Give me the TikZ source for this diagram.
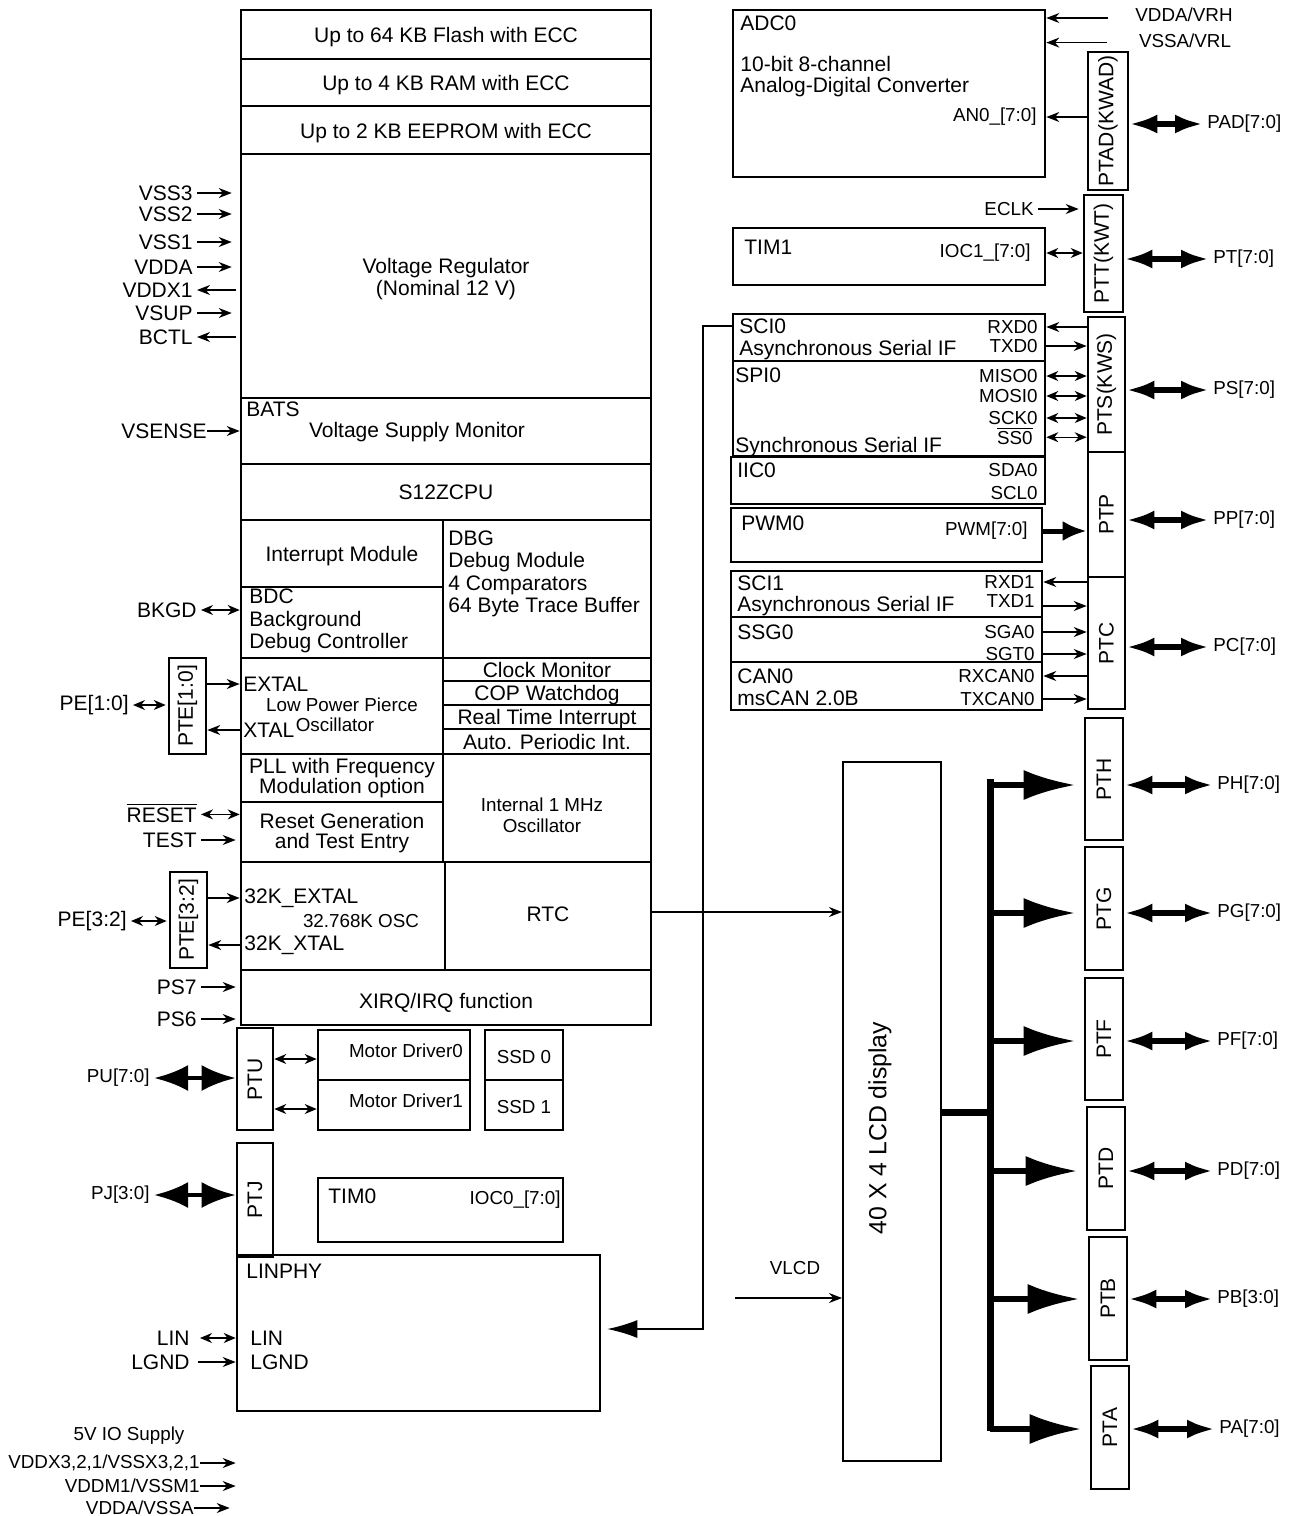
\documentclass[tikz,border=0pt]{standalone}
\usepackage{fontspec}
\setmainfont{Liberation Sans}
\usetikzlibrary{arrows.meta,fit,calc}
\tikzset{
  blk/.style={draw, line width=1.3pt, inner sep=0pt},
  lbl/.style={inner sep=2pt, align=center, font=\fontsize{10.5}{11.2}\selectfont},
  boxt/.style={lbl, yshift=-1.5pt},
  sml/.style={inner sep=2pt, align=center, font=\fontsize{9.4}{10.5}\selectfont},
  vlbl/.style={rotate=90, inner sep=0pt, font=\fontsize{10.5}{11.2}\selectfont},
  sig/.style={line width=0.7pt, -{Stealth[length=6.5pt, width=5pt]}},
  bidir/.style={line width=0.7pt, {Stealth[length=6pt, width=5pt]}-{Stealth[length=6pt, width=5pt]}},
  portbus/.style={line width=2.8pt, {Latex[length=14pt, width=9.5pt]}-{Latex[length=14pt, width=9.5pt]}},
  padbus/.style={line width=2.2pt, {Latex[length=17pt, width=13pt]}-{Latex[length=17pt, width=13pt]}},
  pwmbus/.style={line width=2.5pt, -{Latex[length=12pt, width=10pt]}},
  lcdbus/.style={line width=3pt, -{Latex[length=26pt, width=15pt]}},
  linbus/.style={line width=0.7pt, -{Latex[length=15pt, width=9pt]}},
}

\begin{document}
\begin{tikzpicture}[x=0.5pt, y=-0.5pt]
  \useasboundingbox (0,0) rectangle (1292,1516);

  % Main column: memories, regulator, CPU
  \node[blk, fit={(241,10) (651,59)}] (flash) {};
  \node[boxt] (flasht) at (flash) {Up to 64 KB Flash with ECC};
  \node[blk, fit={(241,59) (651,106)}] (ram) {};
  \node[boxt] (ramt) at (ram) {Up to 4 KB RAM with ECC};
  \node[blk, fit={(241,106) (651,154)}] (eeprom) {};
  \node[boxt] (eepromt) at (eeprom) {Up to 2 KB EEPROM with ECC};
  \node[blk, fit={(241,154) (651,398)}] (vreg) {};
  \node[boxt] (vregt) at (vreg) {Voltage Regulator\\(Nominal 12 V)};
  \node[blk, fit={(241,398) (651,464)}] (bats) {};
  \node[lbl, anchor=west] (batst) at (242,409) {BATS};
  \node[lbl] (batsm) at (417,432) {Voltage Supply Monitor};
  \node[blk, fit={(241,464) (651,520)}] (cpu) {};
  \node[lbl] (cput) at (cpu) {S12ZCPU};

  % Main column: debug, clocks, reset
  \node[blk, fit={(241,520) (443,587)}] (intm) {};
  \node[boxt] (intmt) at (intm) {Interrupt Module};
  \node[blk, fit={(241,587) (443,658)}] (bdc) {};
  \node[lbl, anchor=west, align=left] (bdct) at (245,621) {BDC\\Background\\Debug Controller};
  \node[blk, fit={(443,520) (651,658)}] (dbg) {};
  \node[lbl, anchor=west, align=left] (dbgt) at (444,574) {DBG\\Debug Module\\4 Comparators\\64 Byte Trace Buffer};
  \node[blk, fit={(241,658) (443,754)}] (osc) {};
  \node[lbl, anchor=west] (extal) at (239,684) {EXTAL};
  \node[lbl, anchor=west] (xtal) at (239,730) {XTAL};
  \node[sml] (lppt) at (342,705) {Low Power Pierce};
  \node[sml] (lppo) at (335,725) {Oscillator};
  \node[blk, fit={(443,658) (651,681)}] (clkmon) {};
  \node[lbl] (clkmont) at (clkmon) {Clock Monitor};
  \node[blk, fit={(443,681) (651,705)}] (cop) {};
  \node[lbl, yshift=-1pt] (copt) at (cop) {COP Watchdog};
  \node[blk, fit={(443,705) (651,729)}] (rti) {};
  \node[lbl, yshift=-1pt] (rtit) at (rti) {Real Time Interrupt};
  \node[blk, fit={(443,729) (651,754)}] (api) {};
  \node[lbl] (apit) at (api) {Auto. Periodic Int.};
  \node[blk, fit={(241,754) (443,802)}] (pll) {};
  \node[lbl, font=\fontsize{10.5}{10}\selectfont] (pllt) at (pll) {PLL with Frequency\\Modulation option};
  \node[blk, fit={(241,802) (443,862)}] (rstgen) {};
  \node[lbl, font=\fontsize{10.5}{10}\selectfont] (rstgent) at ([yshift=-0.5pt]rstgen) {Reset Generation\\and Test Entry};
  \node[blk, fit={(443,754) (651,862)}] (irc) {};
  \node[sml] (irct) at (542,815) {Internal 1 MHz\\Oscillator};
  \node[blk, fit={(241,862) (445,970)}] (osc32) {};
  \node[lbl, anchor=west] (xt32a) at (240,898) {32K\_EXTAL};
  \node[sml] (osc32t) at (361,921) {32.768K OSC};
  \node[lbl, anchor=west] (xt32b) at (240,945) {32K\_XTAL};
  \node[blk, fit={(445,862) (651,970)}] (rtc) {};
  \node[lbl] (rtct) at ([yshift=1pt]rtc) {RTC};
  \node[blk, fit={(241,970) (651,1025)}] (xirq) {};
  \node[lbl] (xirqt) at ([yshift=-2.5pt]xirq) {XIRQ/IRQ function};

  % Left pins: supplies
  \node[lbl, anchor=east] (vss3) at (197,193) {VSS3};
  \node[lbl, anchor=east] (vss2) at (197,214) {VSS2};
  \node[lbl, anchor=east] (vss1) at (197,242) {VSS1};
  \node[lbl, anchor=east] (vdda) at (197,267) {VDDA};
  \node[lbl, anchor=east] (vddx) at (197,290) {VDDX1};
  \node[lbl, anchor=east] (vsup) at (197,313) {VSUP};
  \node[lbl, anchor=east] (bctl) at (197,337) {BCTL};
  \draw[sig, shorten >=4pt] (vss3.east) -- (vss3.east -| vreg.west);
  \draw[sig, shorten >=4pt] (vss2.east) -- (vss2.east -| vreg.west);
  \draw[sig, shorten >=4pt] (vss1.east) -- (vss1.east -| vreg.west);
  \draw[sig, shorten >=4pt] (vdda.east) -- (vdda.east -| vreg.west);
  \draw[sig, shorten <=2pt] (vddx.east -| vreg.west) -- (vddx.east);
  \draw[sig, shorten >=4pt] (vsup.east) -- (vsup.east -| vreg.west);
  \draw[sig, shorten <=2pt] (bctl.east -| vreg.west) -- (bctl.east);
  \node[lbl, anchor=east, inner sep=0pt] (vsense) at (207,431) {VSENSE};
  \draw[sig] (vsense.east) -- (vsense.east -| bats.west);

  % Left pins: debug, oscillators, reset, irq
  \node[lbl, anchor=east] (bkgd) at (201,610) {BKGD};
  \draw[bidir] (bkgd.east) -- (bkgd.east -| bdc.west);
  \node[blk, fit={(169,658) (206,754)}] (pte10) {};
  \node[vlbl] (pte10t) at (pte10) {PTE[1:0]};
  \node[lbl, anchor=east] (pe10) at (133,705) {PE[1:0]};
  \draw[bidir, shorten >=1pt] (pe10.east) -- (pe10.east -| pte10.west);
  \draw[sig] (pte10.east |- extal) -- (osc.west |- extal);
  \draw[sig] (osc.west |- xtal) -- (pte10.east |- xtal);
  \node[lbl, anchor=base east] (rst) at (201,822) {$\overline{\mbox{RESET}}$};
  \coordinate (rsty) at ([yshift=3.8pt]rst.base east);
  \draw[bidir] (rsty) -- (rsty -| rstgen.west);
  \node[lbl, anchor=east] (test) at (201,840) {TEST};
  \draw[sig, shorten >=2pt] (test.east) -- (test.east -| rstgen.west);
  \node[blk, fit={(170,872) (207,968)}] (pte32) {};
  \node[vlbl] (pte32t) at (pte32) {PTE[3:2]};
  \node[lbl, anchor=east] (pe32) at (131,921) {PE[3:2]};
  \draw[bidir, shorten >=1pt] (pe32.east) -- (pe32.east -| pte32.west);
  \draw[sig] (pte32.east |- xt32a) -- (osc32.west |- xt32a);
  \draw[sig] (osc32.west |- xt32b) -- (pte32.east |- xt32b);
  \node[lbl, anchor=east] (ps7) at (201,987) {PS7};
  \node[lbl, anchor=east] (ps6) at (201,1019) {PS6};
  \draw[sig, shorten >=2pt] (ps7.east) -- (ps7.east -| xirq.west);
  \draw[sig, shorten >=2pt] (ps6.east) -- (ps6.east -| xirq.west);

  % Bottom left: PTU, PTJ, motor drivers, TIM0, LINPHY
  \node[blk, fit={(237,1028) (273,1130)}] (ptu) {};
  \node[vlbl] (ptut) at (ptu) {PTU};
  \node[sml, anchor=east] (pu) at (154,1078) {PU[7:0]};
  \draw[padbus] (pu.east) -- (pu.east -| ptu.west);
  \node[blk, fit={(318,1030) (470,1080)}] (md0) {};
  \node[sml] (md0t) at (406,1051) {Motor Driver0};
  \node[blk, fit={(318,1080) (470,1130)}] (md1) {};
  \node[sml] (md1t) at (406,1101) {Motor Driver1};
  \draw[bidir] ([yshift=-2pt]ptu.east |- md0.west) -- ([yshift=-2pt]md0.west);
  \draw[bidir] ([yshift=-2pt]ptu.east |- md1.west) -- ([yshift=-2pt]md1.west);
  \node[blk, fit={(485,1030) (563,1080)}] (ssd0) {};
  \node[sml] (ssd0t) at ([yshift=-1pt]ssd0) {SSD 0};
  \node[blk, fit={(485,1080) (563,1130)}] (ssd1) {};
  \node[sml] (ssd1t) at ([yshift=-1pt]ssd1) {SSD 1};
  \node[blk, fit={(237,1143) (273,1257)}] (ptj) {};
  \node[vlbl] (ptjt) at (ptj) {PTJ};
  \node[sml, anchor=east] (pj) at (154,1195) {PJ[3:0]};
  \draw[padbus] (pj.east) -- (pj.east -| ptj.west);
  \node[blk, fit={(318,1178) (563,1242)}] (tim0) {};
  \node[lbl, anchor=west] (tim0t) at (324,1196) {TIM0};
  \node[sml, anchor=east] (ioc0) at (565,1200) {IOC0\_[7:0]};
  \node[blk, fit={(237,1255) (600,1411)}] (linphy) {};
  \node[lbl, anchor=west] (linphyt) at (242,1271) {LINPHY};
  \node[lbl, anchor=west] (linin) at (246,1338) {LIN};
  \node[lbl, anchor=west] (lgndin) at (246,1362) {LGND};
  \node[lbl, anchor=east] (lin) at (194,1338) {LIN};
  \node[lbl, anchor=east] (lgnd) at (194,1362) {LGND};
  \draw[bidir] ([xshift=3pt]lin.east) -- (lin.east -| linphy.west);
  \draw[sig] ([xshift=2pt]lgnd.east) -- (lgnd.east -| linphy.west);

  % IO supplies
  \node[sml] (io5v) at (129,1436) {5V IO Supply};
  \node[sml, anchor=east, inner sep=0pt] (vddxio) at (200,1463) {VDDX3,2,1/VSSX3,2,1};
  \node[sml, anchor=east, inner sep=0pt] (vddm) at (200,1486) {VDDM1/VSSM1};
  \node[sml, anchor=east, inner sep=0pt] (vddaio) at (194,1508) {VDDA/VSSA};
  \draw[sig] (vddxio.east) -- (vddxio.east -| linphy.west);
  \draw[sig] (vddm.east) -- (vddm.east -| linphy.west);
  \draw[sig, shorten >=3pt] (vddaio.east) -- (vddaio.east -| linphy.west);

  % Top right: ADC0 and TIM1
  \node[blk, fit={(733,10) (1045,177)}] (adc) {};
  \node[lbl, anchor=west] (adct) at (736,23) {ADC0};
  \node[lbl, anchor=west, align=left, font=\fontsize{10.5}{10.5}\selectfont] (adcd) at (736,77) {10-bit 8-channel\\Analog-Digital Converter};
  \node[sml, anchor=east] (an0) at (1041,117) {AN0\_[7:0]};
  \node[sml] (vrh) at (1184,15) {VDDA/VRH};
  \node[sml] (vrl) at (1185,41) {VSSA/VRL};
  \coordinate (vrhy) at ([yshift=-1.5pt]vrh.west);
  \coordinate (vrly) at ([yshift=-0.8pt]vrl.west);
  \draw[sig] ([xshift=-11.5pt]vrhy) -- (vrhy -| adc.east);
  \draw[sig] ([xshift=-14pt]vrly) -- (vrly -| adc.east);
  \node[blk, fit={(1088,52) (1128,190)}] (ptad) {};
  \node[vlbl] (ptadt) at (ptad) {PTAD(KWAD)};
  \draw[sig] (ptad.west |- an0) -- (adc.east |- an0);
  \node[sml, anchor=west] (pad) at (1203,124) {PAD[7:0]};
  \draw[portbus] (ptad.east |- pad) -- (pad.west);
  \node[blk, fit={(1084,195) (1123,312)}] (ptt) {};
  \node[vlbl] (pttt) at (ptt) {PTT(KWT)};
  \node[sml, anchor=east] (eclk) at (1038,209) {ECLK};
  \draw[sig, shorten >=2pt] (eclk.east) -- (eclk.east -| ptt.west);
  \node[blk, fit={(733,228) (1045,285)}] (tim1) {};
  \node[lbl, anchor=west] (tim1t) at (740,247) {TIM1};
  \node[sml, anchor=east] (ioc1) at (1035,253) {IOC1\_[7:0]};
  \draw[bidir] (tim1.east |- ioc1) -- (ptt.west |- ioc1);
  \node[sml, anchor=west] (pt) at (1209,259) {PT[7:0]};
  \draw[portbus] (ptt.east |- pt) -- (pt.west);

  % Right: serial, PWM, CAN blocks and ports S, P, C
  \node[blk, fit={(1088,317) (1125,452)}] (pts) {};
  \node[vlbl] (ptst) at (pts) {PTS(KWS)};
  \node[blk, fit={(1088,452) (1125,577)}] (ptp) {};
  \node[vlbl] (ptpt) at (ptp) {PTP};
  \node[blk, fit={(1088,577) (1125,709)}] (ptc) {};
  \node[vlbl] (ptct) at (ptc) {PTC};
  \node[sml, anchor=west] (ps) at (1209,390) {PS[7:0]};
  \node[sml, anchor=west] (pp) at (1209,520) {PP[7:0]};
  \node[sml, anchor=west] (pc) at (1209,647) {PC[7:0]};
  \draw[portbus] (pts.east |- ps) -- (ps.west);
  \draw[portbus] (ptp.east |- pp) -- (pp.west);
  \draw[portbus] (ptc.east |- pc) -- (pc.west);

  \node[blk, fit={(733,314) (1045,361)}] (sci0) {};
  \node[lbl, anchor=west] (sci0t) at (735,326) {SCI0};
  \node[lbl, anchor=west] (sci0d) at (735,350) {Asynchronous Serial IF};
  \node[sml, anchor=east] (rxd0) at (1042,327) {RXD0};
  \node[sml, anchor=east] (txd0) at (1042,346) {TXD0};
  \draw[sig] (pts.west |- rxd0) -- (sci0.east |- rxd0);
  \draw[sig] (sci0.east |- txd0) -- (pts.west |- txd0);

  \node[blk, fit={(733,361) (1045,456)}] (spi0) {};
  \node[lbl, anchor=west] (spi0t) at (731,375) {SPI0};
  \node[lbl, anchor=west] (spi0d) at (731,447) {Synchronous Serial IF};
  \node[sml, anchor=east] (miso0) at (1042,376) {MISO0};
  \node[sml, anchor=east] (mosi0) at (1042,396) {MOSI0};
  \node[sml, anchor=east] (sck0) at (1042,418) {SCK0};
  \node[sml, anchor=base east] (ss0) at (1037,444) {$\overline{\mbox{SS0}}$};
  \coordinate (ss0y) at ([yshift=3.4pt]ss0.base east);
  \draw[bidir] (spi0.east |- miso0) -- (pts.west |- miso0);
  \draw[bidir] (spi0.east |- mosi0) -- (pts.west |- mosi0);
  \draw[bidir] (spi0.east |- sck0) -- (pts.west |- sck0);
  \draw[bidir] (spi0.east |- ss0y) -- (pts.west |- ss0y);

  \node[blk, fit={(731,457) (1045,504)}] (iic0) {};
  \node[lbl, anchor=west] (iic0t) at (733,470) {IIC0};
  \node[sml, anchor=east] (sda0) at (1042,470) {SDA0};
  \node[sml, anchor=east] (scl0) at (1042,493) {SCL0};

  \node[blk, fit={(731,508) (1042,562)}] (pwm0) {};
  \node[lbl, anchor=west] (pwm0t) at (737,523) {PWM0};
  \node[sml, anchor=east] (pwmo) at (1032,531) {PWM[7:0]};
  \draw[pwmbus] (pwm0.east |- pwmo) -- (ptp.west |- pwmo);

  \node[blk, fit={(731,571) (1042,617)}] (sci1) {};
  \node[lbl, anchor=west] (sci1t) at (733,583) {SCI1};
  \node[lbl, anchor=west] (sci1d) at (733,606) {Asynchronous Serial IF};
  \node[sml, anchor=east] (rxd1) at (1039,582) {RXD1};
  \node[sml, anchor=east] (txd1) at (1039,601) {TXD1};
  \coordinate (txd1y) at ([yshift=-2.5pt]txd1.east);
  \draw[sig] (ptc.west |- rxd1) -- (sci1.east |- rxd1);
  \draw[sig] (sci1.east |- txd1y) -- (ptc.west |- txd1y);

  \node[blk, fit={(731,617) (1042,662)}] (ssg0) {};
  \node[lbl, anchor=west] (ssg0t) at (733,632) {SSG0};
  \node[sml, anchor=east] (sga0) at (1039,632) {SGA0};
  \node[sml, anchor=east] (sgt0) at (1039,654) {SGT0};
  \draw[sig] (ssg0.east |- sga0) -- (ptc.west |- sga0);
  \draw[sig] (ssg0.east |- sgt0) -- (ptc.west |- sgt0);

  \node[blk, fit={(731,662) (1042,710)}] (can0) {};
  \node[lbl, anchor=west] (can0t) at (733,676) {CAN0};
  \node[lbl, anchor=west] (can0d) at (733,698) {msCAN 2.0B};
  \node[sml, anchor=east] (rxcan0) at (1039,676) {RXCAN0};
  \node[sml, anchor=east] (txcan0) at (1039,699) {TXCAN0};
  \draw[sig] (ptc.west |- rxcan0) -- (can0.east |- rxcan0);
  \draw[sig] (can0.east |- txcan0) -- (ptc.west |- txcan0);

  % SCI0 to LINPHY
  \coordinate (lindn) at (703,1329);
  \draw[linbus, shorten >=3pt] (sci0.west |- sci0t) -| (lindn) -- (lindn -| linphy.east);

  % LCD driver and its ports
  \node[draw, line width=1pt, inner sep=0pt, fit={(843,762) (941,1461)}] (lcd) {};
  \node[rotate=90, inner sep=0pt, font=\fontsize{12.4}{13}\selectfont] (lcdt) at (880,1128) {40 X 4 LCD display};
  \draw[sig] ([yshift=2pt]rtc.east) -- ([yshift=2pt]rtc.east -| lcd.west);
  \node[sml] (vlcd) at (795,1268) {VLCD};
  \coordinate (vlcdin) at (735,1298);
  \draw[sig] (vlcdin) -- (vlcdin -| lcd.west);

  \node[blk, fit={(1085,718) (1123,840)}] (pth) {};
  \node[vlbl] (ptht) at (pth) {PTH};
  \node[blk, fit={(1085,847) (1123,970)}] (ptg) {};
  \node[vlbl] (ptgt) at (ptg) {PTG};
  \node[blk, fit={(1085,978) (1123,1100)}] (ptf) {};
  \node[vlbl] (ptft) at (ptf) {PTF};
  \node[blk, fit={(1087,1107) (1125,1230)}] (ptd) {};
  \node[vlbl] (ptdt) at (ptd) {PTD};
  \node[blk, fit={(1089,1237) (1127,1360)}] (ptb) {};
  \node[vlbl] (ptbt) at (ptb) {PTB};
  \node[blk, fit={(1091,1366) (1129,1489)}] (pta) {};
  \node[vlbl] (ptat) at (pta) {PTA};

  \node[sml, anchor=west] (ph) at (1213,785) {PH[7:0]};
  \node[sml, anchor=west] (pg) at (1213,913) {PG[7:0]};
  \node[sml, anchor=west] (pf) at (1213,1041) {PF[7:0]};
  \node[sml, anchor=west] (pd) at (1213,1171) {PD[7:0]};
  \node[sml, anchor=west] (pb) at (1213,1299) {PB[3:0]};
  \node[sml, anchor=west] (pa) at (1215,1429) {PA[7:0]};
  \draw[portbus] (pth.east |- ph) -- (ph.west);
  \draw[portbus] (ptg.east |- pg) -- (pg.west);
  \draw[portbus] (ptf.east |- pf) -- (pf.west);
  \draw[portbus] (ptd.east |- pd) -- (pd.west);
  \draw[portbus] (ptb.east |- pb) -- (pb.west);
  \draw[portbus] (pta.east |- pa) -- (pa.west);

  \coordinate (busj) at (990,1112);
  \coordinate (bust) at (990,779);
  \coordinate (busb) at (990,1431);
  \draw[line width=3.5pt] (lcd.east |- busj) -- (busj);
  \draw[line width=3.5pt] (bust) -- (busb);
  \draw[lcdbus, shorten >=4pt] (bust |- ph) -- (pth.west |- ph);
  \draw[lcdbus, shorten >=4pt] (bust |- pg) -- (ptg.west |- pg);
  \draw[lcdbus, shorten >=4pt] (bust |- pf) -- (ptf.west |- pf);
  \draw[lcdbus, shorten >=4pt] (bust |- pd) -- (ptd.west |- pd);
  \draw[lcdbus, shorten >=4pt] (bust |- pb) -- (ptb.west |- pb);
  \draw[lcdbus, shorten >=4pt] (bust |- pa) -- (pta.west |- pa);

\end{tikzpicture}
\end{document}
